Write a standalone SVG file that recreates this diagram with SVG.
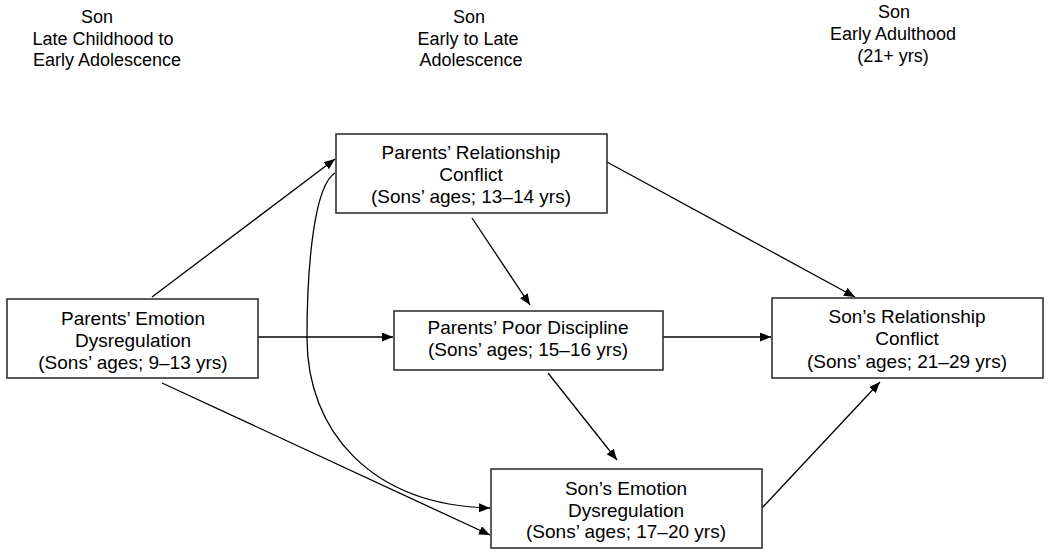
<svg xmlns="http://www.w3.org/2000/svg" width="1050" height="554" viewBox="0 0 1050 554">
<style>
text{font-family:"Liberation Sans",Arial,sans-serif;fill:#000;text-anchor:middle}
.hd{font-size:18px}
.bx{font-size:19px}
rect{fill:#fff;stroke:#333;stroke-width:1.6}
.c{fill:none;stroke:#000;stroke-width:1.3}
</style>
<defs>
<marker id="ah" markerUnits="userSpaceOnUse" markerWidth="12" markerHeight="10" refX="11" refY="4.5" orient="auto">
<path d="M0,0 L11,4.5 L0,9 z" fill="#000"/>
</marker>
</defs>
<g id="headers">
<text class="hd" x="97" y="23">Son</text>
<text class="hd" x="103" y="44.5">Late Childhood to</text>
<text class="hd" x="107" y="66">Early Adolescence</text>
<text class="hd" x="469" y="23">Son</text>
<text class="hd" x="468" y="44.5">Early to Late</text>
<text class="hd" x="471" y="66">Adolescence</text>
<text class="hd" x="894" y="18">Son</text>
<text class="hd" x="893" y="40">Early Adulthood</text>
<text class="hd" x="893" y="62">(21+ yrs)</text>
</g>
<g id="connectors">
<path class="c" d="M152,297 L335,159" marker-end="url(#ah)"/>
<path class="c" d="M258,337 L393,337" marker-end="url(#ah)"/>
<path class="c" d="M162,383 L490,535" marker-end="url(#ah)"/>
<path class="c" d="M335,173 C315,185 307,260 307,338 C307,430 370,505 490,508" marker-end="url(#ah)"/>
<path class="c" d="M472,218 L530,305" marker-end="url(#ah)"/>
<path class="c" d="M607,162 L855,297" marker-end="url(#ah)"/>
<path class="c" d="M663,337 L771,337" marker-end="url(#ah)"/>
<path class="c" d="M548,373 L617,460" marker-end="url(#ah)"/>
<path class="c" d="M762,508 L880,382" marker-end="url(#ah)"/>
</g>
<g id="n1">
<rect x="7" y="299" width="251" height="79"/>
<text class="bx" x="133" y="325">Parents’ Emotion</text>
<text class="bx" x="133" y="347">Dysregulation</text>
<text class="bx" x="133" y="369">(Sons’ ages; 9–13 yrs)</text>
</g>
<g id="n2">
<rect x="336" y="134" width="271" height="79"/>
<text class="bx" x="471" y="159">Parents’ Relationship</text>
<text class="bx" x="471" y="181">Conflict</text>
<text class="bx" x="471" y="203">(Sons’ ages; 13–14 yrs)</text>
</g>
<g id="n3">
<rect x="394" y="311" width="269" height="59"/>
<text class="bx" x="528" y="334">Parents’ Poor Discipline</text>
<text class="bx" x="528" y="356">(Sons’ ages; 15–16 yrs)</text>
</g>
<g id="n4">
<rect x="491" y="469" width="271" height="79"/>
<text class="bx" x="626" y="495">Son’s Emotion</text>
<text class="bx" x="626" y="517">Dysregulation</text>
<text class="bx" x="626" y="538">(Sons’ ages; 17–20 yrs)</text>
</g>
<g id="n5">
<rect x="772" y="298" width="271" height="80"/>
<text class="bx" x="907" y="323">Son’s Relationship</text>
<text class="bx" x="907" y="345">Conflict</text>
<text class="bx" x="907" y="368">(Sons’ ages; 21–29 yrs)</text>
</g>
</svg>
